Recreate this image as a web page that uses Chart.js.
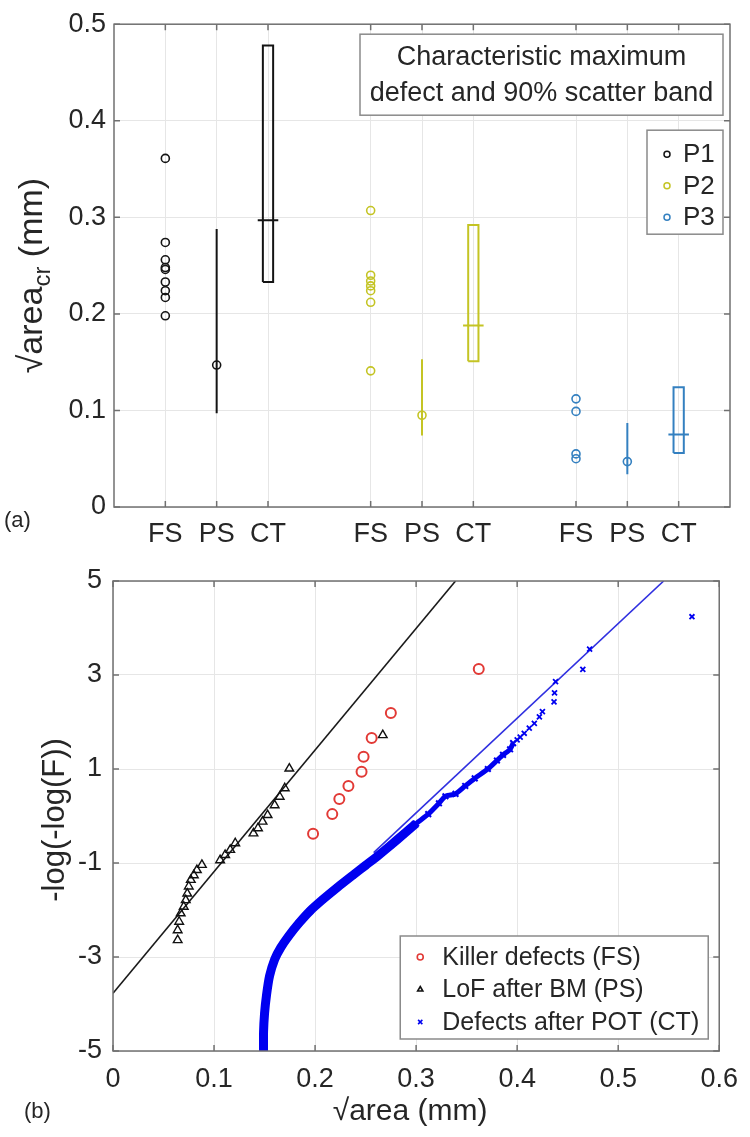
<!DOCTYPE html>
<html>
<head>
<meta charset="utf-8">
<title>Characteristic defect sizes</title>
<script src="https://cdn.jsdelivr.net/npm/chart.js@4.4.1/dist/chart.umd.min.js"></script>
<style>
  html, body { margin: 0; padding: 0; background: #ffffff; }
  canvas { display: block; }
</style>
</head>
<body>
<canvas id="chartA" width="750" height="550"></canvas>
<canvas id="chartB" width="750" height="587"></canvas>
<script>
// ---------- (a) characteristic maximum defect and 90% scatter band ----------
const tickPositions = [1, 2, 3, 5, 6, 7, 9, 10, 11];
const tickLabels = ['FS', 'PS', 'CT', 'FS', 'PS', 'CT', 'FS', 'PS', 'CT'];
const partNames = ['P1', 'P2', 'P3'];
const partColors = ['#141414', '#c4c424', '#3480c0'];
const fsPos = [1, 5, 9];
const psPos = [2, 6, 10];
const ctPos = [3, 7, 11];

const p1FS = [0.198, 0.217, 0.224, 0.233, 0.246, 0.248, 0.256, 0.274, 0.361];
const p2FS = [0.141, 0.212, 0.224, 0.229, 0.234, 0.240, 0.307];
const p3FS = [0.050, 0.055, 0.099, 0.112];

const psLow = [0.097, 0.074, 0.034];
const psMid = [0.147, 0.095, 0.047];
const psHigh = [0.288, 0.153, 0.087];

const ctLow = [0.233, 0.151, 0.056];
const ctMid = [0.297, 0.188, 0.075];
const ctHigh = [0.478, 0.292, 0.124];

// ---------- (b) Gumbel plot ----------
const killerX = [0.198, 0.217, 0.224, 0.233, 0.246, 0.248, 0.256, 0.275, 0.362];
const killerY = [-0.38, 0.04, 0.36, 0.64, 0.94, 1.26, 1.66, 2.19, 3.13];

const lofX = [0.064, 0.064, 0.0655, 0.067, 0.070, 0.072, 0.0735, 0.075, 0.077, 0.080, 0.083, 0.088,
              0.106, 0.111, 0.116, 0.121, 0.139, 0.1435, 0.148, 0.153, 0.160, 0.165, 0.170, 0.1745, 0.267];
const lofY = [-2.64, -2.43, -2.25, -2.07, -1.93, -1.79, -1.65, -1.50, -1.36, -1.26, -1.15, -1.04,
              -0.94, -0.83, -0.72, -0.58, -0.37, -0.26, -0.12, 0.02, 0.23, 0.41, 0.59, 1.01, 1.72];

// dense part of the POT defects (reads as a thick band)
const potX = [0.149, 0.149, 0.150, 0.152, 0.155, 0.160, 0.166, 0.174, 0.184, 0.195, 0.208, 0.222,
              0.238, 0.250, 0.262, 0.275, 0.288, 0.300, 0.312, 0.3226, 0.329, 0.339, 0.3486,
              0.358, 0.371, 0.380, 0.386, 0.393, 0.396];
const potY = [-5.0, -4.6, -4.2, -3.8, -3.4, -3.05, -2.8, -2.55, -2.28, -2.02, -1.77, -1.52,
              -1.25, -1.05, -0.85, -0.62, -0.38, -0.16, 0.04, 0.27, 0.42, 0.47, 0.64,
              0.80, 1.00, 1.18, 1.30, 1.42, 1.55];
// sparse upper tail of the POT defects
const potTailX = [0.400, 0.403, 0.407, 0.412, 0.417, 0.422, 0.425, 0.4365, 0.437, 0.438, 0.465, 0.4717, 0.573];
const potTailY = [1.62, 1.68, 1.76, 1.87, 1.97, 2.11, 2.22, 2.43, 2.62, 2.86, 3.12, 3.55, 4.24];

// fitted lines, end points
const lofFitX = [0, 0.339];
const lofFitY = [-3.77, 5.0];
const potFitX = [0.258, 0.545];
const potFitY = [-0.78, 5.0];

const FONT = "'Liberation Sans', Arial, sans-serif";
const TEXT = '#262626';
const GRID = '#e6e6e6';
const FRAME = '#707070';

const pts = (xs, ys) => xs.map((x, i) => ({ x: x, y: ys[i] }));
const fmt = v => String(Number(v.toFixed(2)));

function drawFrame(ctx, a, xs, ys) {
    ctx.save();
    ctx.strokeStyle = FRAME;
    ctx.lineWidth = 1.5;
    ctx.strokeRect(a.left, a.top, a.right - a.left, a.bottom - a.top);
    ctx.beginPath();
    xs.ticks.forEach(t => {
        const p = xs.getPixelForValue(t.value);
        ctx.moveTo(p, a.bottom); ctx.lineTo(p, a.bottom - 6);
        ctx.moveTo(p, a.top); ctx.lineTo(p, a.top + 6);
    });
    ys.ticks.forEach(t => {
        const p = ys.getPixelForValue(t.value);
        ctx.moveTo(a.left, p); ctx.lineTo(a.left + 6, p);
        ctx.moveTo(a.right, p); ctx.lineTo(a.right - 6, p);
    });
    ctx.stroke();
    ctx.restore();
}

function drawBox(ctx, x, y, w, h) {
    ctx.fillStyle = '#ffffff';
    ctx.fillRect(x, y, w, h);
    ctx.strokeStyle = '#8a8a8a';
    ctx.lineWidth = 1.5;
    ctx.strokeRect(x, y, w, h);
}

function marker(ctx, style, color, r, bw, x, y) {
    ctx.strokeStyle = color;
    ctx.fillStyle = 'rgba(0,0,0,0)';
    ctx.lineWidth = bw;
    Chart.helpers.drawPoint(ctx, { pointStyle: style, radius: r, rotation: 0, borderWidth: bw }, x, y);
}

// ---------- chart (a) ----------
const dsA = [];
[p1FS, p2FS, p3FS].forEach((vals, i) => {
    const c = partColors[i];
    dsA.push({
        label: partNames[i],
        data: vals.map(v => ({ x: fsPos[i], y: v })),
        borderColor: c, backgroundColor: 'rgba(0,0,0,0)',
        pointRadius: 4, pointBorderWidth: 1.6, showLine: false
    });
    dsA.push({
        data: [{ x: psPos[i], y: psLow[i] }, { x: psPos[i], y: psHigh[i] }],
        borderColor: c, borderWidth: 2, pointRadius: 0, showLine: true
    });
    dsA.push({
        data: [{ x: psPos[i], y: psMid[i] }],
        borderColor: c, backgroundColor: 'rgba(0,0,0,0)',
        pointRadius: 4, pointBorderWidth: 1.6, showLine: false
    });
    const hw = 0.1, mw = 0.2, x0 = ctPos[i];
    dsA.push({
        data: [
            { x: x0 - hw, y: ctLow[i] }, { x: x0 + hw, y: ctLow[i] },
            { x: x0 + hw, y: ctHigh[i] }, { x: x0 - hw, y: ctHigh[i] },
            { x: x0 - hw, y: ctLow[i] }
        ],
        borderColor: c, borderWidth: 2, pointRadius: 0, showLine: true
    });
    dsA.push({
        data: [{ x: x0 - mw, y: ctMid[i] }, { x: x0 + mw, y: ctMid[i] }],
        borderColor: c, borderWidth: 2, pointRadius: 0, showLine: true
    });
});

const panelA = {
    id: 'panelA',
    afterDraw(chart) {
        const { ctx, chartArea: a, scales } = chart;
        drawFrame(ctx, a, scales.x, scales.y);
        ctx.save();

        // y title with subscript
        ctx.save();
        ctx.translate(30, (a.top + a.bottom) / 2 + 10);
        ctx.rotate(-Math.PI / 2);
        ctx.fillStyle = TEXT;
        ctx.textBaseline = 'alphabetic';
        const parts = [['√area', "34px " + FONT, 12], ['cr', "24px " + FONT, 20], [' (mm)', "34px " + FONT, 12]];
        let total = 0;
        parts.forEach(p => { ctx.font = p[1]; total += ctx.measureText(p[0]).width; });
        let px = -total / 2;
        parts.forEach(p => { ctx.font = p[1]; ctx.fillText(p[0], px, p[2]); px += ctx.measureText(p[0]).width; });
        ctx.restore();

        // panel tag
        ctx.fillStyle = TEXT;
        ctx.font = "22px " + FONT;
        ctx.textAlign = 'left';
        ctx.textBaseline = 'middle';
        ctx.fillText('(a)', 4, 521);

        // annotation box
        const bw = 363, bh = 81;
        const bx = a.right - 7 - bw, by = a.top + 10;
        drawBox(ctx, bx, by, bw, bh);
        ctx.fillStyle = TEXT;
        ctx.font = "27px " + FONT;
        ctx.textAlign = 'center';
        ctx.fillText('Characteristic maximum', bx + bw / 2, by + 23);
        ctx.fillText('defect and 90% scatter band', bx + bw / 2, by + 59);

        // part legend
        const lw = 76, lh = 104;
        const lx = a.right - 7 - lw, ly = a.top + 106;
        drawBox(ctx, lx, ly, lw, lh);
        ctx.font = "26px " + FONT;
        ctx.textAlign = 'left';
        partNames.forEach((n, i) => {
            const yy = ly + 24 + i * 31.5;
            marker(ctx, 'circle', partColors[i], 3, 1.5, lx + 20, yy);
            ctx.fillStyle = TEXT;
            ctx.fillText(n, lx + 36, yy + 1);
        });
        ctx.restore();
    }
};

new Chart(document.getElementById('chartA'), {
    type: 'scatter',
    data: { datasets: dsA },
    options: {
        responsive: false,
        animation: false,
        layout: { autoPadding: false, padding: { top: 17, right: 20, left: 0, bottom: 0 } },
        plugins: { legend: { display: false }, tooltip: { enabled: false } },
        scales: {
            x: {
                type: 'linear', min: 0, max: 12,
                afterBuildTicks: s => { s.ticks = tickPositions.map(v => ({ value: v })); },
                afterFit: s => { s.height = 43; },
                grid: { color: GRID, drawTicks: false },
                border: { display: false },
                ticks: {
                    autoSkip: false, maxRotation: 0, padding: 11,
                    color: TEXT, font: { family: FONT, size: 27 },
                    callback: (v, i) => tickLabels[i]
                }
            },
            y: {
                type: 'linear', min: 0, max: 0.5,
                afterFit: s => { s.width = 114; },
                grid: { color: GRID, drawTicks: false },
                border: { display: false },
                ticks: {
                    stepSize: 0.1, padding: 8,
                    color: TEXT, font: { family: FONT, size: 27 },
                    callback: v => fmt(v)
                }
            }
        }
    },
    plugins: [panelA]
});

// ---------- chart (b) ----------
const RED = '#e23a36';
const BLUE = '#0000f0';

const dsB = [
    {
        label: 'Killer defects (FS)', inLegend: true, legendStyle: 'circle',
        data: pts(killerX, killerY),
        borderColor: RED, backgroundColor: 'rgba(0,0,0,0)',
        pointStyle: 'circle', pointRadius: 5, pointBorderWidth: 2, showLine: false
    },
    {
        label: 'LoF after BM (PS)', inLegend: true, legendStyle: 'triangle',
        data: pts(lofX, lofY),
        borderColor: '#111111', backgroundColor: 'rgba(0,0,0,0)',
        pointStyle: 'triangle', pointRadius: 5, pointBorderWidth: 1.4, showLine: false
    },
    {
        label: 'Defects after POT (CT)', inLegend: true, legendStyle: 'crossRot',
        data: pts(potTailX, potTailY),
        borderColor: BLUE, backgroundColor: BLUE,
        pointStyle: 'crossRot', pointRadius: 3.5, pointBorderWidth: 1.8, showLine: false
    },
    {
        label: 'POT dense',
        data: pts(potX, potY),
        borderColor: BLUE, backgroundColor: BLUE,
        borderWidth: 9, borderJoinStyle: 'round', borderCapStyle: 'butt', tension: 0.2,
        // the band thins out where the points get sparser
        segment: { borderWidth: c => (c.p0.parsed.x >= 0.3 ? 5 : 9) },
        pointStyle: 'crossRot', pointRadius: 4, pointBorderWidth: 2, showLine: true
    },
    {
        label: 'POT fit',
        data: pts(potFitX, potFitY),
        borderColor: '#3030e0', borderWidth: 1.6, pointRadius: 0, showLine: true
    },
    {
        label: 'LoF fit',
        data: pts(lofFitX, lofFitY),
        borderColor: '#1a1a1a', borderWidth: 1.6, pointRadius: 0, showLine: true
    }
];

const panelB = {
    id: 'panelB',
    afterDraw(chart) {
        const { ctx, chartArea: a, scales } = chart;
        drawFrame(ctx, a, scales.x, scales.y);
        ctx.save();
        ctx.fillStyle = TEXT;

        // y title
        ctx.save();
        ctx.translate(55, (a.top + a.bottom) / 2 + 4);
        ctx.rotate(-Math.PI / 2);
        ctx.font = "31px " + FONT;
        ctx.textAlign = 'center';
        ctx.textBaseline = 'middle';
        ctx.fillText('-log(-log(F))', 0, 0);
        ctx.restore();

        // x title
        ctx.font = "30px " + FONT;
        ctx.textAlign = 'center';
        ctx.textBaseline = 'middle';
        ctx.fillText('√area (mm)', (a.left + a.right) / 2 - 6, a.bottom + 61);

        // panel tag
        ctx.font = "22px " + FONT;
        ctx.textAlign = 'left';
        ctx.fillText('(b)', 24, a.bottom + 61);

        // legend
        const entries = chart.data.datasets.filter(d => d.inLegend);
        const lw = 308, lh = 103;
        const lx = a.right - 11 - lw, ly = a.bottom - 12 - lh;
        drawBox(ctx, lx, ly, lw, lh);
        ctx.font = "25px " + FONT;
        ctx.textBaseline = 'middle';
        entries.forEach((d, i) => {
            const yy = ly + 21 + i * 32.5;
            marker(ctx, d.legendStyle, d.borderColor, 3, 1.6, lx + 20, yy);
            ctx.fillStyle = TEXT;
            ctx.fillText(d.label, lx + 42, yy + 1);
        });
        ctx.restore();
    }
};

new Chart(document.getElementById('chartB'), {
    type: 'scatter',
    data: { datasets: dsB },
    options: {
        responsive: false,
        animation: false,
        layout: { autoPadding: false, padding: { top: 31, right: 21, left: 0, bottom: 0 } },
        plugins: { legend: { display: false }, tooltip: { enabled: false } },
        scales: {
            x: {
                type: 'linear', min: 0, max: 0.6,
                afterFit: s => { s.height = 86; },
                grid: { color: GRID, drawTicks: false },
                border: { display: false },
                ticks: {
                    stepSize: 0.1, padding: 12, maxRotation: 0,
                    color: TEXT, font: { family: FONT, size: 27 },
                    callback: v => fmt(v)
                }
            },
            y: {
                type: 'linear', min: -5, max: 5,
                afterFit: s => { s.width = 113; },
                grid: { color: GRID, drawTicks: false },
                border: { display: false },
                ticks: {
                    stepSize: 2, padding: 11,
                    color: TEXT, font: { family: FONT, size: 27 },
                    callback: v => fmt(v)
                }
            }
        }
    },
    plugins: [panelB]
});
</script>
</body>
</html>
